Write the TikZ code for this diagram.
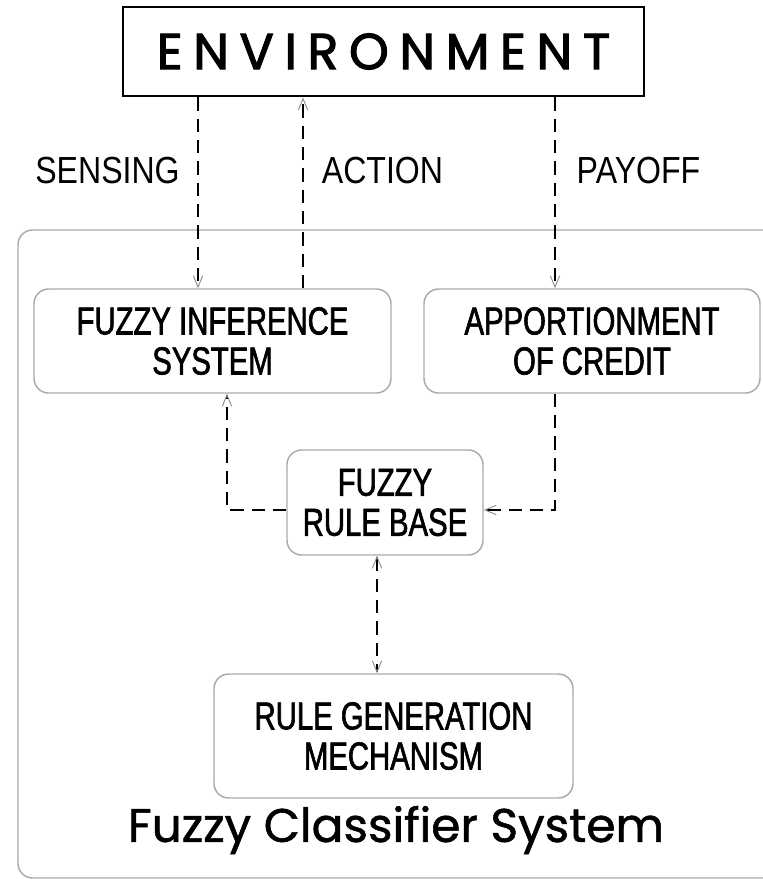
\documentclass[tikz,border=0pt]{standalone}
\usepackage{fontspec}
\usepackage{tikz}
\usetikzlibrary{arrows.meta}
\setmainfont{Liberation Sans}
\newfontfamily\boxfont[FakeStretch=0.75, FakeBold=1.6]{Liberation Sans}
\newfontfamily\labelfont[FakeStretch=0.85]{Liberation Sans}
\newfontfamily\envfont[LetterSpace=21, FakeBold=2.2]{Poppins}
\newfontfamily\titlefont[FakeBold=1.2]{Poppins}
\definecolor{framegray}{HTML}{AAAAAA}
\definecolor{tipgray}{HTML}{8C8C8C}

\tikzstyle{envbox} = [rectangle, draw=black, line width=2.2pt, minimum width=390.75pt, minimum height=66.75pt, inner sep=0pt, font=\envfont\fontsize{38}{38}\selectfont]
\tikzstyle{block} = [rectangle, rounded corners=11pt, draw=framegray, line width=1.1pt, align=center, inner sep=0pt, font=\boxfont\fontsize{29.3}{30}\selectfont]
\tikzstyle{channel} = [font=\labelfont\fontsize{28.3}{28.3}\selectfont, inner sep=0pt]
\tikzstyle{flow} = [line width=1.5pt, dash pattern=on 10pt off 6pt, >={Straight Barb[length=8.5pt, width=7pt, line width=0.7pt, color=tipgray]}]

\begin{document}
\begin{tikzpicture}[x=0.75pt, y=-0.75pt]
\clip (0,0) rectangle (763,879);

% outer frame, runs past the right edge
\draw [framegray, line width=1.1pt, rounded corners=11pt] (18,230) rectangle (800,878);

\node (env) [envbox] at (383.5,51.5) {ENVIRONMENT};

\node (fis) [block, minimum width=267.75pt, minimum height=78pt] at (212.5,341) {FUZZY INFERENCE\\SYSTEM};
\node (app) [block, minimum width=252pt, minimum height=78pt] at (592,341) {APPORTIONMENT\\OF CREDIT};
\node (rb) [block, minimum width=147pt, minimum height=78.75pt] at (385,502.5) {FUZZY\\RULE BASE};
\node (rgm) [block, minimum width=269.25pt, minimum height=93pt] at (393.5,736) {RULE GENERATION\\MECHANISM};

\node (sensing) [channel] at (107.5,171) {SENSING};
\node (action) [channel] at (382.5,171) {ACTION};
\node (payoff) [channel] at (638.5,171) {PAYOFF};

\node (fcs) [font=\titlefont\fontsize{35.3}{35.3}\selectfont, inner sep=0pt] at (396,830) {Fuzzy Classifier System};

% columns of the dashed links
\coordinate (sx) at (198,0);
\coordinate (ax) at (303,0);
\coordinate (px) at (555,0);
\coordinate (lx) at (227,0);

\draw [flow,->] (env.south -| sx) -- (fis.north -| sx);
\draw [flow,->] (fis.north -| ax) -- (env.south -| ax);
\draw [flow,->] (env.south -| px) -- (app.north -| px);
\draw [flow,->] ([yshift=-5.6pt]rb.west) -| (fis.south -| lx);
\draw [flow,->] (app.south -| px) |- ([yshift=-5.6pt]rb.east);
\draw [flow,<->] ([xshift=-6pt]rb.south) -- ([xshift=-6pt]rb.south |- rgm.north);
\end{tikzpicture}
\end{document}
